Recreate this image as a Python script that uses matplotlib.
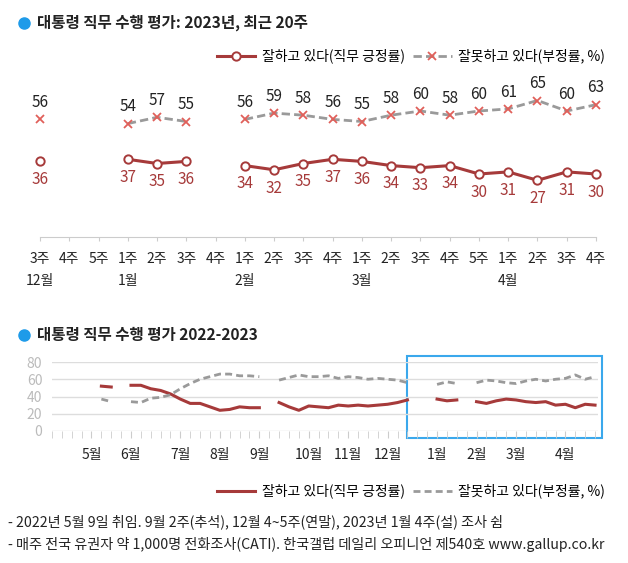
import numpy as np
import matplotlib.pyplot as plt
from matplotlib.lines import Line2D
from matplotlib.patches import Rectangle

plt.rcParams['font.family'] = ['Noto Sans CJK KR', 'DejaVu Sans']

# ---- top chart: 2023, last 20 weeks ----
week_labels = ["3주", "4주", "5주", "1주", "2주", "3주", "4주", "1주", "2주", "3주",
               "4주", "1주", "2주", "3주", "4주", "5주", "1주", "2주", "3주", "4주"]
month_marks = {0: "12월", 3: "1월", 7: "2월", 11: "3월", 16: "4월"}
approve_20w = [36, None, None, 37, 35, 36, None, 34, 32, 35,
               37, 36, 34, 33, 34, 30, 31, 27, 31, 30]
disapprove_20w = [56, None, None, 54, 57, 55, None, 56, 59, 58,
                  56, 55, 58, 60, 58, 60, 61, 65, 60, 63]

# ---- bottom chart: weekly, 2022-05 1st week .. 2023-04 4th week ----
month_names = ["5월", "6월", "7월", "8월", "9월", "10월", "11월", "12월", "1월", "2월", "3월", "4월"]
weeks_per_month = [4, 5, 4, 4, 5, 4, 4, 5, 4, 4, 5, 4]
approve_weekly = [None, 52, 51, None, 53, 53, 49, 47, 43, 37, 32, 32, 28, 24, 25, 28, 27, 27,
                  None, 33, 28, 24, 29, 28, 27, 30, 29, 30, 29, 30, 31, 33, 36, None, None,
                  37, 35, 36, None, 34, 32, 35, 37, 36, 34, 33, 34, 30, 31, 27, 31, 30]
disapprove_weekly = [None, 37, 34, None, 34, 33, 38, 39, 42, 49, 55, 60, 63, 66, 66, 64, 64, 63,
                     None, 59, 62, 65, 63, 63, 64, 61, 63, 62, 60, 61, 60, 59, 56, None, None,
                     54, 57, 55, None, 56, 59, 58, 56, 55, 58, 60, 58, 60, 61, 65, 60, 63]

footnotes = ["- 2022년 5월 9일 취임. 9월 2주(추석), 12월 4~5주(연말), 2023년 1월 4주(설) 조사 쉼",
             "- 매주 전국 유권자 약 1,000명 전화조사(CATI). 한국갤럽 데일리 오피니언 제540호 www.gallup.co.kr"]

RED = "#A63A3A"
XRED = "#E0605A"
GREY = "#9A9A9A"
BLUE = "#1E9BE9"

W, H = 628, 563
fig = plt.figure(figsize=(W / 100, H / 100), dpi=100)


def px_axes(left, top, right, bottom):
    return fig.add_axes([left / W, 1 - bottom / H, (right - left) / W, (bottom - top) / H])


def to_arr(vals):
    return np.array([np.nan if v is None else v for v in vals], dtype=float)


def header(y, text):
    fig.add_artist(Line2D([24 / W], [1 - y / H], marker="o", ms=8, color=BLUE,
                          transform=fig.transFigure))
    fig.text(37 / W, 1 - y / H, text, fontsize=11.2, fontweight="bold", va="center", color="#222")


def legend_at(handles, y):
    fig.legend(handles, ["잘하고 있다(직무 긍정률)", "잘못하고 있다(부정률, %)"],
               loc="center right", bbox_to_anchor=(605 / W, 1 - y / H), ncol=2, frameon=False,
               fontsize=10, handlelength=2.8, handletextpad=0.45, columnspacing=0.6,
               borderaxespad=0, borderpad=0)


# ---------- top chart ----------
ax1 = px_axes(40, 237 - 2.1 * 75, 596, 237)
x = np.arange(len(week_labels))
pos = to_arr(approve_20w)
neg = to_arr(disapprove_20w)

l_pos, = ax1.plot(x, pos, color=RED, lw=2.2, marker="o", ms=6, mfc="white", mec=RED,
                  mew=1.4, clip_on=False, zorder=3)
l_neg, = ax1.plot(x, neg, color=GREY, lw=2, ls=(0, (3, 1.5)), marker="x", ms=5.5, mec=XRED,
                  mew=1.3, clip_on=False, zorder=3)

for i in range(len(x)):
    if not np.isnan(pos[i]):
        ax1.annotate(f"{pos[i]:.0f}", (i, pos[i]), xytext=(0, -7), textcoords="offset points",
                     ha="center", va="top", color=RED, fontsize=11, annotation_clip=False)
    if not np.isnan(neg[i]):
        ax1.annotate(f"{neg[i]:.0f}", (i, neg[i]), xytext=(0, 6), textcoords="offset points",
                     ha="center", va="bottom", color="#222", fontsize=11, annotation_clip=False)

ax1.set_xlim(0, len(x) - 1)
ax1.set_ylim(0, 75)
ax1.set_xticks(x, week_labels)
ax1.set_yticks([])
ax1.tick_params(axis="x", length=3, color="#CCCCCC", labelsize=10, pad=8, labelcolor="#222")
for s in ["left", "right", "top"]:
    ax1.spines[s].set_visible(False)
ax1.spines["bottom"].set_color("#CCCCCC")
for i, m in month_marks.items():
    ax1.annotate(m, (i, 0), xytext=(0, -32), textcoords="offset points", ha="center",
                 va="center", fontsize=10, color="#222", annotation_clip=False)

header(23, "대통령 직무 수행 평가: 2023년, 최근 20주")
legend_at([l_pos, l_neg], 56)

# ---------- bottom chart ----------
ax2 = px_axes(52, 431 - 0.8625 * 80, 598, 431)
weeks = np.arange(len(approve_weekly))
ax2.plot(weeks, to_arr(approve_weekly), color=RED, lw=2.2, clip_on=False, zorder=3)
ax2.plot(weeks, to_arr(disapprove_weekly), color=GREY, lw=2, ls=(0, (2.5, 1.5)),
         clip_on=False, zorder=3)

month_starts = np.concatenate([[0], np.cumsum(weeks_per_month)[:-1]])
ax2.set_xlim(-4, 51.3)
ax2.set_ylim(0, 80)
ax2.set_xticks(month_starts, month_names)
ax2.set_xticks(np.arange(-4, 52), minor=True)
ax2.set_yticks([0, 20, 40, 60, 80])
ax2.grid(axis="y", color="#DDDDDD", lw=1)
ax2.tick_params(axis="x", which="both", length=5, color="#CCCCCC")
ax2.tick_params(axis="x", labelsize=10, pad=7, labelcolor="#222")
ax2.tick_params(axis="y", length=0, labelsize=10, labelcolor="#BBBBBB", pad=7)
for s in ax2.spines.values():
    s.set_visible(False)
ax2.add_patch(Rectangle((31.95, -7.8), 51.7 - 31.95, 95, fill=False, ec="#3AA8EC", lw=1.5,
                        clip_on=False))

header(335, "대통령 직무 수행 평가 2022-2023")
h_pos = Line2D([], [], color=RED, lw=2.2)
h_neg = Line2D([], [], color=GREY, lw=2, ls=(0, (2.5, 1.5)))
legend_at([h_pos, h_neg], 491)

fig.text(8 / W, 1 - 522 / H, footnotes[0], fontsize=10.2, va="center", color="#222")
fig.text(8 / W, 1 - 545 / H, footnotes[1], fontsize=10.2, va="center", color="#222")

fig.savefig("out.png", dpi=100)
